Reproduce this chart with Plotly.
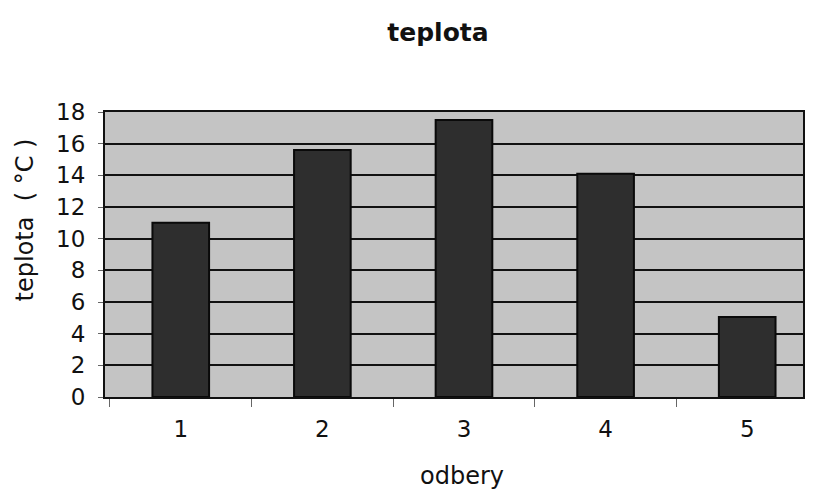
import plotly.graph_objects as go

categories = ["1", "2", "3", "4", "5"]
teplota = [11.0, 15.6, 17.5, 14.1, 5.05]
y_ticks = [0, 2, 4, 6, 8, 10, 12, 14, 16, 18]

font = "DejaVu Sans, Liberation Sans, Arial, sans-serif"
ink = "#111111"

fig = go.Figure(
    go.Bar(
        x=categories,
        y=teplota,
        marker=dict(color="#2e2e2e", line=dict(color="#0a0a0a", width=2)),
        width=0.4,
    )
)

fig.update_layout(
    width=797,
    height=485,
    margin=dict(l=97, r=0, t=104, b=96),
    paper_bgcolor="white",
    plot_bgcolor="#c4c4c4",
    showlegend=False,
    title=dict(
        text="<b>teplota</b>",
        x=430 / 797,
        xanchor="center",
        y=1 - 24 / 485,
        yanchor="middle",
        font=dict(family=font, size=25, color=ink),
    ),
    font=dict(family=font, color=ink),
    annotations=[
        dict(
            text="teplota  ( °C )",
            xref="paper", yref="paper",
            x=-0.114, y=0.621,
            xanchor="center", yanchor="middle",
            textangle=-90, showarrow=False,
            font=dict(family=font, size=24, color=ink),
        ),
        dict(
            text="odbery",
            xref="paper", yref="paper",
            x=0.511, y=-0.278,
            xanchor="center", yanchor="middle",
            showarrow=False,
            font=dict(family=font, size=24, color=ink),
        ),
    ],
)

fig.update_xaxes(
    type="category",
    range=[-0.535, 4.394],
    showline=True,
    linecolor=ink,
    linewidth=2,
    mirror=True,
    showgrid=False,
    tickson="boundaries",
    ticks="outside",
    ticklen=8,
    tickcolor="#666666",
    ticklabelstandoff=10,
    tickfont=dict(size=23, family=font, color=ink),
)

fig.update_yaxes(
    range=[0, 18],
    tickvals=y_ticks,
    ticktext=[str(v) for v in y_ticks],
    showline=True,
    linecolor=ink,
    linewidth=2,
    mirror=True,
    showgrid=True,
    gridcolor=ink,
    gridwidth=1.5,
    ticks="outside",
    ticklen=5,
    tickcolor="#666666",
    ticklabelstandoff=8,
    tickfont=dict(size=23, family=font, color=ink),
    zeroline=False,
)

fig.write_html("out.html")
